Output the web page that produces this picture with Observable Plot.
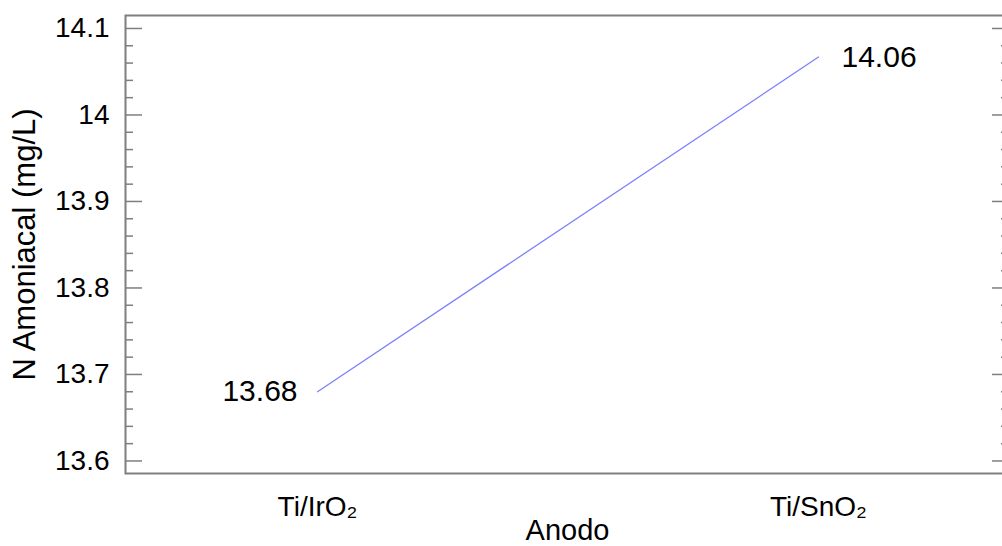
<!DOCTYPE html>
<html>
<head>
<meta charset="utf-8">
<script src="https://cdn.jsdelivr.net/npm/d3@7"></script>
<script src="https://cdn.jsdelivr.net/npm/@observablehq/plot@0.6"></script>
<style>
  html, body { margin: 0; padding: 0; background: #fff; overflow: hidden; }
  #chart svg { display: block; }
</style>
</head>
<body>
<div id="chart"></div>
<script>
// ---- data ----
const anodes = ["Ti/IrO₂", "Ti/SnO₂"];
const ammonia = [13.68, 14.067];
const valueLabels = ["13.68", "14.06"];
const yMajorTicks = [13.6, 13.7, 13.8, 13.9, 14.0, 14.1];
const yMinorTicks = [13.62, 13.64, 13.66, 13.68, 13.72, 13.74, 13.76, 13.78,
  13.82, 13.84, 13.86, 13.88, 13.92, 13.94, 13.96, 13.98,
  14.02, 14.04, 14.06, 14.08];
const xTitle = "Anodo";
const yTitle = "N Amoniacal (mg/L)";

const rows = anodes.map((a, i) => ({anode: a, value: ammonia[i], label: valueLabels[i]}));

const W = 1002, H = 546;
const mL = 125, mR = -7, mT = 15, mB = 73;
const innerW = W - mL - mR;
const frameColor = "#7f7f7f";
const font = "'Liberation Sans', Arial, Helvetica, sans-serif";

const chart = Plot.plot({
  width: W,
  height: H,
  marginLeft: mL,
  marginRight: mR,
  marginTop: mT,
  marginBottom: mB,
  style: {fontFamily: font, fontSize: "28px", color: "#000", background: "#fff"},
  x: {type: "point", domain: anodes, padding: 0.3805},
  y: {domain: [13.5855, 14.115]},
  marks: [
    Plot.frame({stroke: frameColor, strokeWidth: 2}),
    // inward ticks, left side
    Plot.tickY(yMajorTicks, {y: d => d, stroke: frameColor, strokeWidth: 1.5, insetRight: innerW - 17}),
    Plot.tickY(yMinorTicks, {y: d => d, stroke: frameColor, strokeWidth: 1.5, insetRight: innerW - 8}),
    // inward ticks, right side
    Plot.tickY(yMajorTicks, {y: d => d, stroke: frameColor, strokeWidth: 1.5, insetLeft: innerW - 17}),
    Plot.tickY(yMinorTicks, {y: d => d, stroke: frameColor, strokeWidth: 1.5, insetLeft: innerW - 8}),
    Plot.axisY(yMajorTicks, {
      anchor: "left", tickSize: 0, tickPadding: 16, fontSize: 28,
      tickFormat: d => String(+d.toFixed(1)),
      label: null
    }),
    Plot.axisY([], {
      anchor: "left", tickSize: 0, fontSize: 31,
      label: yTitle, labelAnchor: "center", labelOffset: 113, labelArrow: "none"
    }),
    Plot.axisX({
      anchor: "bottom", tickSize: 0, tickPadding: 23, fontSize: 28,
      label: null
    }),
    Plot.axisX([], {
      anchor: "bottom", tickSize: 0, fontSize: 29,
      label: xTitle, labelAnchor: "center", labelOffset: 66, labelArrow: "none"
    }),
    Plot.line(rows, {x: "anode", y: "value", stroke: "#8080ff", strokeWidth: 1.3}),
    Plot.text(rows.slice(0, 1), {x: "anode", y: "value", text: "label", textAnchor: "end", dx: -20, fontSize: 30, fill: "#000"}),
    Plot.text(rows.slice(1), {x: "anode", y: "value", text: "label", textAnchor: "start", dx: 23, fontSize: 30, fill: "#000"})
  ]
});
document.getElementById("chart").appendChild(chart);
</script>
</body>
</html>
